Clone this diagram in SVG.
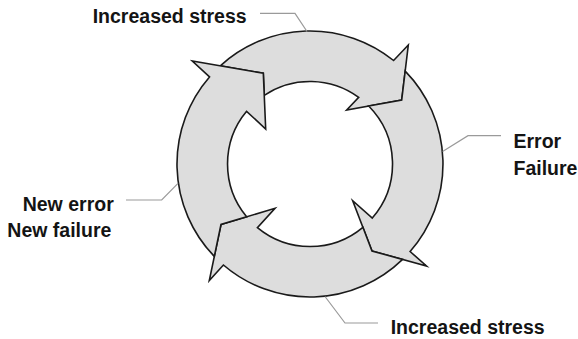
<svg xmlns="http://www.w3.org/2000/svg" width="578" height="339" viewBox="0 0 578 339">
  <style>
    .arrow { fill: #dddddd; stroke: #1a1a1a; stroke-width: 1.6; stroke-linejoin: miter; stroke-miterlimit: 10; }
    .leader { fill: none; stroke: #9a9a9a; stroke-width: 1.2; }
    .label { font-family: "Liberation Sans", Arial, sans-serif; font-weight: bold; font-size: 19.5px; fill: #141414; }
  </style>
  <rect width="578" height="339" fill="#ffffff"/>

  <!-- cycle ring: four arc arrows around centre (310,164), outer r 133, inner r 82.5 -->
  <g id="arrow-top">
    <path class="arrow" d="M220.3,65.8 A133,133 0 0 1 393.6,60.5 L408.3,45 L401.7,100 L346.7,110 L358.7,97.4 A82.5,82.5 0 0 0 264.25,95.35 L263.3,73.3 Z"/>
  </g>
  <g id="arrow-right">
    <path class="arrow" d="M405.2,71.1 A133,133 0 0 1 410.1,251.5 L426.5,266 L372,251 L352.7,200.7 L372.3,218.1 A82.5,82.5 0 0 0 368.7,106.0 L401.7,100 Z"/>
  </g>
  <g id="arrow-bottom">
    <path class="arrow" d="M402.6,259.4 A133,133 0 0 1 223.4,265.0 L209.3,280.5 L221,224.5 L275,208.3 L257.4,227.6 A82.5,82.5 0 0 0 362.9,227.3 L372,251 Z"/>
  </g>
  <g id="arrow-left">
    <path class="arrow" d="M214.3,256.4 A133,133 0 0 1 209.5,76.9 L192.3,61 L263.3,73.3 L265.7,129 L246.6,111.3 A82.5,82.5 0 0 0 246.6,216.8 L221,224.5 Z"/>
  </g>

  <!-- leader lines from the labels to the ring -->
  <g id="connectors">
    <polyline class="leader" points="260,13.3 295,13.3 307,31.5"/>
    <polyline class="leader" points="442.6,151.5 468,135.7 501,135.7"/>
    <polyline class="leader" points="126,200 161.7,200 178,183.3"/>
    <polyline class="leader" points="325,296.5 345,323 378,323"/>
  </g>

  <g id="label-top">
    <text class="label" x="92.7" y="23.3">Increased stress</text>
  </g>
  <g id="label-right">
    <text class="label" x="513.5" y="147.7">Error</text>
    <text class="label" x="513.5" y="175">Failure</text>
  </g>
  <g id="label-left">
    <text class="label" x="22.7" y="210.7">New error</text>
    <text class="label" x="7.3" y="236.7">New failure</text>
  </g>
  <g id="label-bottom">
    <text class="label" x="390.7" y="334">Increased stress</text>
  </g>
</svg>
